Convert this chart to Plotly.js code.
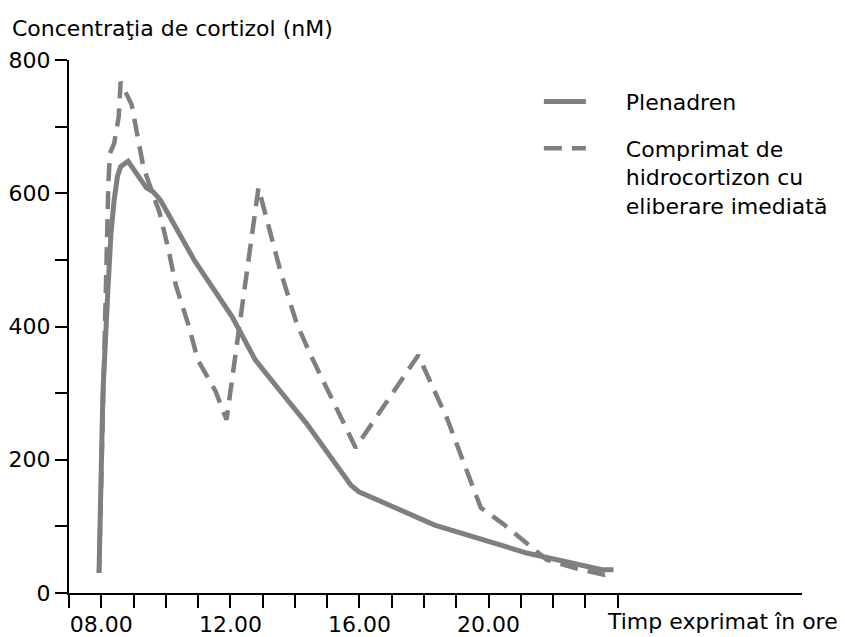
<!DOCTYPE html>
<html>
<head>
<meta charset="utf-8">
<script src="https://cdn.plot.ly/plotly-3.0.1.min.js"></script>
<style>html,body{margin:0;padding:0;background:#fff;}#chart{width:845px;height:637px;}</style>
</head>
<body>
<div id="chart"></div>
<script>
// Time of day (hours) and cortisol concentration (nM)
const plenadrenHours = [7.93, 8.05, 8.2, 8.3, 8.4, 8.5, 8.6, 8.83, 9.4, 9.61, 9.83, 10.9, 12.05, 12.77, 13.43, 14.35, 15.73, 15.98, 18.33, 19.76, 21.18, 23.51, 23.87];
const plenadrenValues = [30, 300, 450, 540, 590, 625, 640, 648, 608, 602, 590, 498, 415, 350, 310, 255, 162, 152, 102, 80, 60, 35, 35];

const irHours = [7.93, 8.05, 8.18, 8.22, 8.27, 8.4, 8.54, 8.6, 8.94, 9.14, 9.31, 9.8, 10.07, 10.31, 10.71, 10.99, 11.54, 11.88, 12.87, 13.54, 14.05, 14.46, 15.27, 15.88, 17.82, 18.73, 19.35, 19.76, 20.47, 21.18, 21.8, 22.7, 23.6, 23.87];
const irValues = [30, 300, 520, 615, 660, 675, 715, 767, 733, 686, 638, 572, 518, 462, 401, 350, 303, 260, 608, 485, 405, 360, 280, 218, 357, 260, 180, 128, 103, 75, 50, 37, 27, 30];

const seriesNames = ['Plenadren', ['Comprimat de', 'hidrocortizon cu', 'eliberare imediată']];
const xTickVals = [7, 8, 9, 10, 11, 12, 13, 14, 15, 16, 17, 18, 19, 20, 21, 22, 23, 24];
const xTickText = ['', '08.00', '', '', '', '12.00', '', '', '', '16.00', '', '', '', '20.00', '', '', '', ''];
const yTickVals = [0, 100, 200, 300, 400, 500, 600, 700, 800];
const yTickText = ['0', '', '200', '', '400', '', '600', '', '800'];

const FONT = 'DejaVu Sans, sans-serif';
const GRAY = '#7f7f7f';
const PAD = '\u00a0\u00a0\u00a0\u00a0\u00a0'; // gap between legend sample and its label

function legendName(n) {
  const lines = Array.isArray(n) ? n : [n];
  return lines.map(function (s) { return PAD + s; }).join('<br>');
}

const traces = [
  {x: plenadrenHours, y: plenadrenValues, name: legendName(seriesNames[0]), type: 'scatter', mode: 'lines',
   line: {color: GRAY, width: 5}, legendgroup: 'a'},
  {x: irHours, y: irValues, name: legendName(seriesNames[1]), type: 'scatter', mode: 'lines',
   line: {color: GRAY, width: 4.5, dash: '18px,10px'}, legendgroup: 'b'}
];

const axisCommon = {
  showline: true, linecolor: '#000', linewidth: 2,
  ticks: 'outside', tickcolor: '#000', tickwidth: 2,
  showgrid: false, zeroline: false,
  tickfont: {family: FONT, size: 22, color: '#000'},
  fixedrange: true
};

const layout = {
  width: 845, height: 637,
  margin: {l: 69, r: 33, t: 60, b: 44, pad: 0},
  paper_bgcolor: '#fff', plot_bgcolor: '#fff',
  font: {family: FONT, size: 22, color: '#000'},
  title: {text: 'Concentraţia de cortizol (nM)', font: {family: FONT, size: 22, color: '#000'},
          xref: 'container', x: 12 / 845, xanchor: 'left', yref: 'container', y: 1 - 28 / 637, yanchor: 'middle'},
  xaxis: Object.assign({}, axisCommon, {range: [7, 29.71], tickmode: 'array', tickvals: xTickVals, ticktext: xTickText, ticklen: 13, ticklabelstandoff: -2}),
  yaxis: Object.assign({}, axisCommon, {range: [0, 800], tickmode: 'array', tickvals: yTickVals, ticktext: yTickText, ticklen: 12}),
  showlegend: true,
  legend: {x: 0.641, y: 0.961, xanchor: 'left', yanchor: 'top', bgcolor: 'rgba(0,0,0,0)',
           font: {family: FONT, size: 22, color: '#000'}, itemwidth: 42, tracegroupgap: 15, valign: 'top',
           traceorder: 'grouped'},
  annotations: [
    {text: 'Timp exprimat în ore', xref: 'paper', yref: 'paper', x: (612 - 69) / 743, y: -(621 - 593) / 533,
     xanchor: 'left', yanchor: 'middle', showarrow: false, font: {family: FONT, size: 22, color: '#000'}}
  ]
};

Plotly.newPlot('chart', traces, layout, {displayModeBar: false, staticPlot: true});
</script>
</body>
</html>
